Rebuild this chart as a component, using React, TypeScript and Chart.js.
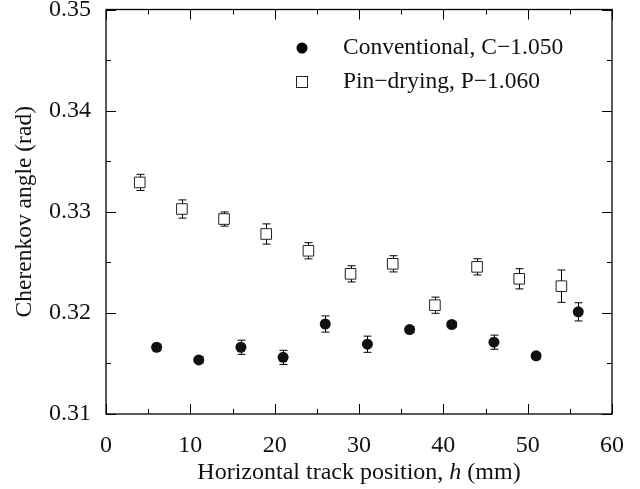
import React, { useEffect, useRef } from "react";
import { Chart, registerables } from "chart.js";

Chart.register(...registerables);

const convX = [6, 11, 16, 21, 26, 31, 36, 41, 46, 51, 56];
const convY = [0.3166, 0.31535, 0.3166, 0.3156, 0.3189, 0.3169, 0.31835, 0.31885, 0.3171, 0.31575, 0.3201];
const convErr = [0.0003, 0.0003, 0.0007, 0.0007, 0.0008, 0.0008, 0.0003, 0.0003, 0.0007, 0.0003, 0.0009];

const pinX = [4, 9, 14, 19, 24, 29, 34, 39, 44, 49, 54];
const pinY = [0.3329, 0.33027, 0.32928, 0.3278, 0.32614, 0.32386, 0.32485, 0.32076, 0.32455, 0.32337, 0.32264];
const pinErr = [0.0008, 0.0009, 0.0007, 0.001, 0.0008, 0.0008, 0.0008, 0.0008, 0.0008, 0.001, 0.0016];

const convLabel = "Conventional, C\u22121.050";
const pinLabel = "Pin\u2212drying, P\u22121.060";
const xTitleParts = ["Horizontal track position, ", "h", " (mm)"];
const yTitle = "Cherenkov angle (rad)";

const FONT = "'Liberation Serif', 'Times New Roman', serif";
const FS = 24;
const LFS = 23.5;

const errorBarPlugin = {
  id: "errorBars",
  beforeDatasetsDraw(chart: any) {
    const ctx = chart.ctx;
    const y = chart.scales.y;
    const x = chart.scales.x;
    ctx.save();
    ctx.strokeStyle = "#000";
    ctx.lineWidth = 1;
    chart.data.datasets.forEach((ds: any) => {
      ds.data.forEach((p: any, i: number) => {
        const e = ds.errors[i];
        const px = Math.round(x.getPixelForValue(p.x)) + 0.5;
        const top = y.getPixelForValue(p.y + e);
        const bot = y.getPixelForValue(p.y - e);
        ctx.beginPath();
        ctx.moveTo(px, top);
        ctx.lineTo(px, bot);
        ctx.moveTo(px - 4, top);
        ctx.lineTo(px + 4, top);
        ctx.moveTo(px - 4, bot);
        ctx.lineTo(px + 4, bot);
        ctx.stroke();
      });
    });
    ctx.restore();
  },
};

const decorPlugin = {
  id: "decor",
  afterDraw(chart: any) {
    const ctx = chart.ctx;
    const { left, right, top, bottom } = chart.chartArea;
    const x = chart.scales.x;
    const y = chart.scales.y;
    ctx.save();
    ctx.strokeStyle = "#000";
    ctx.lineWidth = 1.3;
    ctx.strokeRect(left, top, right - left, bottom - top);
    ctx.lineWidth = 1;
    ctx.beginPath();
    for (let v = 0; v <= 60; v += 5) {
      const px = Math.round(x.getPixelForValue(v)) + 0.5;
      const len = v % 10 === 0 ? 10 : 5;
      ctx.moveTo(px, bottom);
      ctx.lineTo(px, bottom - len);
      ctx.moveTo(px, top);
      ctx.lineTo(px, top + len);
    }
    for (let k = 0; k <= 8; k++) {
      const v = 0.31 + k * 0.005;
      const py = Math.round(y.getPixelForValue(v)) + 0.5;
      const len = k % 2 === 0 ? 10 : 5;
      ctx.moveTo(left, py);
      ctx.lineTo(left + len, py);
      ctx.moveTo(right, py);
      ctx.lineTo(right - len, py);
    }
    ctx.stroke();

    // legend
    const lx = 302;
    const ly1 = 48;
    const ly2 = 82;
    ctx.fillStyle = "#000";
    ctx.beginPath();
    ctx.arc(lx, ly1, 5.5, 0, Math.PI * 2);
    ctx.fill();
    ctx.lineWidth = 1;
    ctx.strokeStyle = "#222";
    ctx.strokeRect(lx - 5.5, ly2 - 5.5, 11, 11);
    ctx.font = `${LFS}px ${FONT}`;
    ctx.textBaseline = "middle";
    ctx.textAlign = "left";
    ctx.fillStyle = "#111";
    ctx.fillText(chart.data.datasets[0].label, 343, ly1);
    ctx.fillText(chart.data.datasets[1].label, 343, ly2);

    // x title with italic h
    const regular = `${FS}px ${FONT}`;
    const italic = `italic ${FS}px ${FONT}`;
    ctx.font = regular;
    const w0 = ctx.measureText(xTitleParts[0]).width;
    const w2 = ctx.measureText(xTitleParts[2]).width;
    ctx.font = italic;
    const w1 = ctx.measureText(xTitleParts[1]).width;
    const total = w0 + w1 + w2;
    let sx = (left + right) / 2 - total / 2;
    const ty = 473;
    ctx.textBaseline = "middle";
    ctx.font = regular;
    ctx.fillText(xTitleParts[0], sx, ty);
    sx += w0;
    ctx.font = italic;
    ctx.fillText(xTitleParts[1], sx, ty);
    sx += w1;
    ctx.font = regular;
    ctx.fillText(xTitleParts[2], sx, ty);

    // y title
    ctx.save();
    ctx.translate(25, (top + bottom) / 2);
    ctx.rotate(-Math.PI / 2);
    ctx.textAlign = "center";
    ctx.textBaseline = "middle";
    ctx.font = `${LFS}px ${FONT}`;
    ctx.fillText(yTitle, 0, 0);
    ctx.restore();

    ctx.restore();
  },
};

export default function App() {
  const ref = useRef<HTMLCanvasElement>(null);
  useEffect(() => {
    document.body.style.margin = "0";
    const chart = new Chart(ref.current!, {
      type: "scatter",
      data: {
        datasets: [
          {
            label: convLabel,
            data: convX.map((v, i) => ({ x: v, y: convY[i] })),
            errors: convErr,
            pointStyle: "circle",
            pointRadius: 5.5,
            backgroundColor: "#111",
            borderColor: "#111",
            borderWidth: 0,
          } as any,
          {
            label: pinLabel,
            data: pinX.map((v, i) => ({ x: v, y: pinY[i] })),
            errors: pinErr,
            pointStyle: "rect",
            pointRadius: 7.5,
            backgroundColor: "#fff",
            borderColor: "#222",
            borderWidth: 1,
          } as any,
        ],
      },
      options: {
        animation: false,
        responsive: false,
        maintainAspectRatio: false,
        layout: { padding: { left: 0, right: 28, top: 9.5, bottom: 0 } },
        plugins: { legend: { display: false }, tooltip: { enabled: false } },
        scales: {
          x: {
            type: "linear",
            min: 0,
            max: 60,
            border: { display: false },
            grid: { display: false, drawTicks: false },
            ticks: {
              stepSize: 10,
              padding: 17,
              maxRotation: 0,
              color: "#111",
              font: { family: FONT, size: FS },
            },
            afterFit(s: any) {
              s.height = 75;
              s.paddingLeft = 0;
              s.paddingRight = 0;
            },
          },
          y: {
            type: "linear",
            min: 0.31,
            max: 0.35,
            border: { display: false },
            grid: { display: false, drawTicks: false },
            ticks: {
              stepSize: 0.01,
              padding: 15,
              color: "#111",
              font: { family: FONT, size: FS },
              callback: (v: any) => Number(v).toFixed(2),
            },
            afterFit(s: any) {
              s.width = 106;
              s.paddingTop = 0;
              s.paddingBottom = 0;
            },
          },
        },
      },
      plugins: [errorBarPlugin, decorPlugin],
    });
    return () => chart.destroy();
  }, []);
  return (
    <div style={{ width: 640, height: 489 }}>
      <canvas ref={ref} width={640} height={489} style={{ display: "block" }} />
    </div>
  );
}
